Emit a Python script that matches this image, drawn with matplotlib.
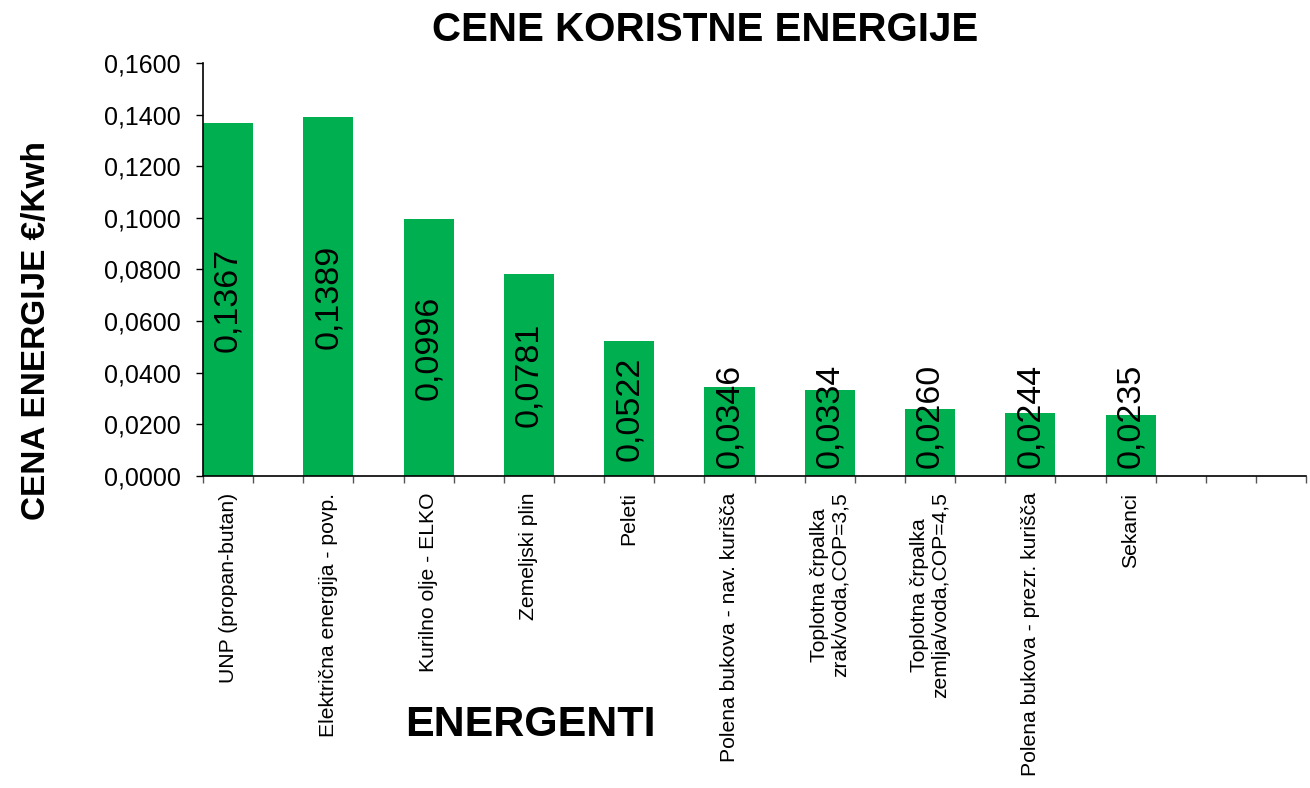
"""
Cene koristne energije - bar chart
"""

import matplotlib
matplotlib.use("Agg")
import matplotlib.pyplot as plt
import numpy as np
from matplotlib.ticker import FuncFormatter, FixedLocator

plt.rcParams['font.family'] = ['Liberation Sans', 'DejaVu Sans']

# --- data ---
energents = [
    "UNP (propan-butan)",
    "Električna energija - povp.",
    "Kurilno olje - ELKO",
    "Zemeljski plin",
    "Peleti",
    "Polena bukova - nav. kurišča",
    "Toplotna črpalka\nzrak/voda,COP=3,5",
    "Toplotna črpalka\nzemlja/voda,COP=4,5",
    "Polena bukova - prezr. kurišča",
    "Sekanci",
]
prices = [0.1367, 0.1389, 0.0996, 0.0781, 0.0522, 0.0346, 0.0334, 0.0260, 0.0244, 0.0235]
n_slots = 11  # excel chart keeps one empty slot on the right

fig = plt.figure(figsize=(13.10, 7.88), dpi=100)
ax = fig.add_axes([0.155, 0.396, 0.842, 0.524])

x = np.arange(len(prices))
ax.bar(x, prices, width=0.5, align='edge', color='#00B050', edgecolor='none')

# value labels, rotated, centered in the bar (pushed up when bar is short)
label_half = 0.0194
for xi, v in zip(x, prices):
    yc = max(v / 2, label_half + 0.004)
    ax.text(xi + 0.25, yc, f"{v:.4f}".replace('.', ','), rotation=90,
            ha='center', va='center', fontsize=24.5, color='black')

# --- axes ---
ax.set_xlim(0, n_slots)
ax.set_ylim(0, 0.16)
ax.set_yticks(np.arange(0, 0.1601, 0.02))
ax.yaxis.set_major_formatter(FuncFormatter(lambda y, _: f"{y:.4f}".replace('.', ',')))
ax.tick_params(axis='y', labelsize=18, length=5, width=1, pad=11, direction='out')

ax.xaxis.set_major_locator(FixedLocator(np.arange(0, n_slots + 0.01, 0.5)))
ax.xaxis.set_minor_locator(FixedLocator(x + 0.25))
ax.set_xticklabels([], minor=False)
ax.set_xticklabels(energents, minor=True, rotation=90, ha='center', va='top',
                   fontsize=15.2, multialignment='center', linespacing=1.15)
ax.tick_params(axis='x', which='major', length=5, width=1, direction='out', color='#555555')
ax.tick_params(axis='x', which='minor', length=0, pad=12)

for side in ['top', 'right']:
    ax.spines[side].set_visible(False)
for side in ['left', 'bottom']:
    ax.spines[side].set_linewidth(1.2)

fig.text(0.538, 0.962, "CENE KORISTNE ENERGIJE", ha='center', va='center',
         fontsize=29, fontweight='bold')
fig.text(0.028, 0.58, "CENA ENERGIJE €/Kwh", rotation=90, ha='center', va='center',
         fontsize=24, fontweight='bold')
fig.text(0.405, 0.080, "ENERGENTI", ha='center', va='center',
         fontsize=31, fontweight='bold')

fig.savefig("out.png", dpi=100)
